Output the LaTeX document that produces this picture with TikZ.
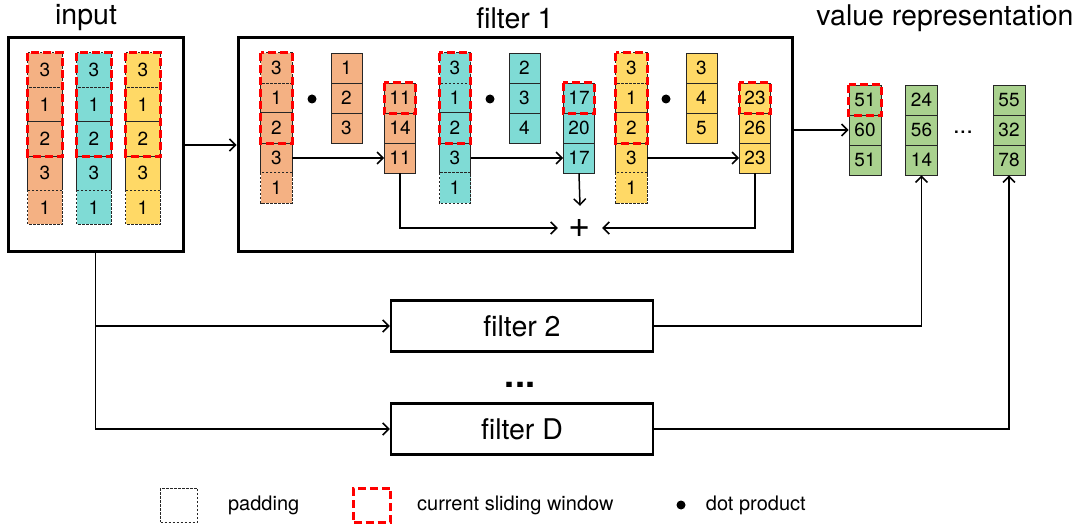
\documentclass[tikz,border=0pt]{standalone}
\usepackage{fontspec}
\setmainfont{TeX Gyre Heros}
\usepackage{tikz}
\usetikzlibrary{arrows.meta, positioning}

\definecolor{orgfill}{HTML}{F4B183}
\definecolor{cyanfill}{HTML}{7FDBD5}
\definecolor{yelfill}{HTML}{FFD966}
\definecolor{grnfill}{HTML}{A9D18E}

\begin{document}
\begin{tikzpicture}[x=1pt, y=-1pt,
    title/.style={font=\fontsize{28.5}{30}\selectfont},
    bigbox/.style={draw, line width=3pt, inner sep=0},
    fbox/.style={draw, line width=2.5pt, minimum width=262, minimum height=51, inner sep=0, font=\fontsize{28.5}{30}\selectfont},
    incell/.style={minimum width=34, minimum height=34.3, inner sep=0, font=\fontsize{19}{19}\selectfont},
    fcell/.style={minimum width=31, minimum height=30, inner sep=0, font=\fontsize{19}{19}\selectfont},
    fullcell/.style={draw=black!85, line width=0.8pt},
    cellline/.style={draw=black!85, line width=0.8pt},
    padline/.style={draw=black!85, line width=0.8pt, dash pattern=on 2.5pt off 1.5pt},
    win/.style={draw=red, line width=3pt, dash pattern=on 8pt off 4pt},
    conn/.style={line width=1.5pt, -{Straight Barb[length=6pt, width=12pt]}},
    dotmark/.style={circle, fill, inner sep=0, minimum size=9},
    legend/.style={font=\fontsize{20}{21}\selectfont, inner sep=0}
]
    \useasboundingbox (0,0) rectangle (1081,529);

    % titles
    \node[title] (tin) at (86,18) {input};
    \node[title] (tfone) at (515,18) {filter 1};
    \node[title] (tval) at (945,18) {value representation};

    % outer boxes
    \node[bigbox, minimum width=175, minimum height=214] (inbox) at (95.5,145) {};
    \node[bigbox, minimum width=554, minimum height=214] (fonebox) at (515,145) {};
    \node[fbox] (ftwo) at (522,326) {filter 2};
    \node[fbox] (fD) at (522,429) {filter D};
    \node[font=\bfseries\fontsize{36}{36}\selectfont] (fdots) at (520,385) {...};

    % input columns, first and last cell are padding
    \foreach \nm/\fc/\x in {ia/orgfill/45, ib/cyanfill/94, ic/yelfill/143} {
        \foreach \v [count=\i] in {3,1,2,3,1}
            \node[incell, fill=\fc] (\nm\i) at (\x, 35.85+34.3*\i) {\v};
        \draw[cellline] (\nm2.north west) -- (\nm4.south west) (\nm2.north east) -- (\nm4.south east)
            (\nm3.north west) -- (\nm3.north east) (\nm3.south west) -- (\nm3.south east);
        \draw[padline] (\nm1.north west) rectangle (\nm1.south east) (\nm5.north west) rectangle (\nm5.south east);
        \draw[win] (\nm1.north west) rectangle (\nm3.south east);
    }

    % filter 1: padded channels
    \foreach \nm/\fc/\x in {fa/orgfill/276.5, fb/cyanfill/455, fc/yelfill/631.5} {
        \foreach \v [count=\i] in {3,1,2,3,1}
            \node[fcell, fill=\fc] (\nm\i) at (\x, 38+30*\i) {\v};
        \draw[cellline] (\nm2.north west) -- (\nm4.south west) (\nm2.north east) -- (\nm4.south east)
            (\nm3.north west) -- (\nm3.north east) (\nm3.south west) -- (\nm3.south east);
        \draw[padline] (\nm1.north west) rectangle (\nm1.south east) (\nm5.north west) rectangle (\nm5.south east);
        \draw[win] (\nm1.north west) rectangle (\nm3.south east);
    }

    % filter 1: kernels
    \foreach \nm/\fc/\x/\vals in {ka/orgfill/346.5/{1,2,3}, kb/cyanfill/524.5/{2,3,4}, kc/yelfill/701.5/{3,4,5}} {
        \foreach \v [count=\i] in \vals
            \node[fcell, fullcell, fill=\fc] (\nm\i) at (\x, 38+30*\i) {\v};
    }

    % filter 1: outputs
    \foreach \nm/\fc/\x/\vals in {oa/orgfill/400/{11,14,11}, ob/cyanfill/579/{17,20,17}, oc/yelfill/755/{23,26,23}} {
        \foreach \v [count=\i] in \vals
            \node[fcell, fullcell, fill=\fc] (\nm\i) at (\x, 68+30*\i) {\v};
        \draw[win] (\nm1.north west) rectangle (\nm1.south east);
    }

    \node[dotmark] (da) at (312,99) {};
    \node[dotmark] (db) at (490,99) {};
    \node[dotmark] (dc) at (666,99) {};
    \node[font=\fontsize{38}{38}\selectfont, minimum size=44, inner sep=0] (plus) at (580,228) {+};

    % value representation
    \foreach \nm/\x/\vals in {va/865/{51,60,51}, vb/921.5/{24,56,14}, vc/1009/{55,32,78}} {
        \foreach \v [count=\i] in \vals
            \node[fcell, fullcell, minimum width=32, fill=grnfill] (\nm\i) at (\x, 70+30*\i) {\v};
    }
    \draw[win] (va1.north west) rectangle (va1.south east);
    \node[font=\fontsize{24}{24}\selectfont] (vdots) at (963,132) {...};

    % connectors
    \draw[conn] (inbox.east) -- (fonebox.west);
    \draw[conn] (fa4.east) -- (oa3.west);
    \draw[conn] (fb4.east) -- (ob3.west);
    \draw[conn] (fc4.east) -- (oc3.west);
    \draw[conn] (oa3.south) |- (plus.west);
    \draw[conn] (ob3.south) -- (plus.north);
    \draw[conn] (oc3.south) |- (plus.east);
    \draw[conn] (fonebox.east |- va2.west) -- (va2.west);
    \draw[conn] (inbox.south) |- (fD.west);
    \draw[conn] (inbox.south |- ftwo.west) -- (ftwo.west);
    \draw[conn] (ftwo.east) -| (vb3.south);
    \draw[conn] (fD.east) -| (vc3.south);

    % legend
    \node[padline, minimum width=37, minimum height=34] (lpad) at (179,505) {};
    \node[legend, right=30pt of lpad] (lpadtxt) {padding};
    \node[win, minimum width=37, minimum height=34] (lwin) at (372,505) {};
    \node[legend, right=25pt of lwin] (lwintxt) {current sliding window};
    \node[dotmark] (ldot) at (681,505) {};
    \node[legend, right=20pt of ldot] (ldottxt) {dot product};
\end{tikzpicture}
\end{document}
